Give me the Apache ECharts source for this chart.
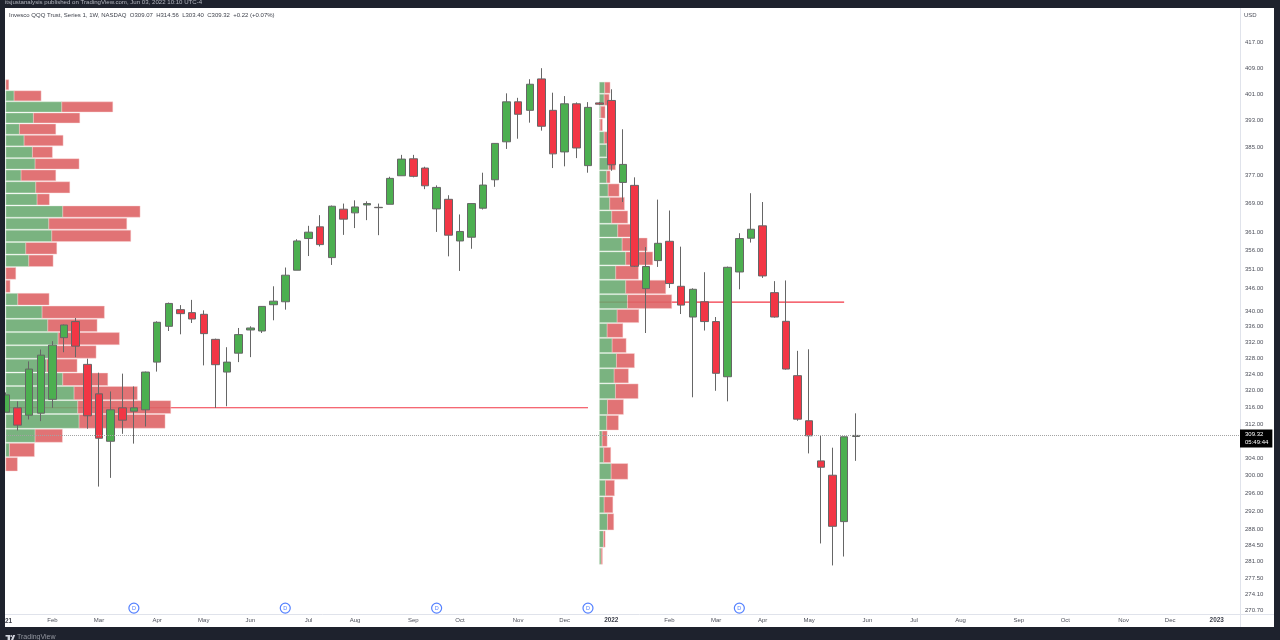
<!DOCTYPE html>
<html>
<head>
<meta charset="utf-8">
<style>html,body{margin:0;padding:0;background:#fff}#chart{width:1280px;height:640px}</style>
<script src="https://cdn.jsdelivr.net/npm/echarts@6/dist/echarts.min.js"></script>
</head>
<body>
<div id="chart"></div>
<script>
// weekly candles
const opens = [314.83,315.88,314.12,314.6,317.93,333.19,337.29,326.49,319.26,307.95,315.88,315.07,315.4,327.05,336.08,340.36,339.59,339.16,332.76,324.59,329.28,335.14,334.88,341.64,342.41,350.72,359.27,362.48,354.1,367.37,366.35,368.56,367.9,368.75,376.84,381.73,379.05,367.46,370.15,358.61,359.63,367.65,375.69,386.69,398.62,396.06,405.63,396.06,383.73,398.03,379.75,398.3,399.04,374.93,374.09,345.85,353.3,358.52,346.46,338.46,342.41,337.29,323.44,350.25,359.36,362.76,344.79,337.36,323.7,312.79,303.39,300.1,289.7,309.07]
const closes = [319.0,311.75,325.33,328.78,331.3,336.42,331.04,313.98,308.66,315.4,312.93,315.88,324.59,337.11,341.97,339.33,337.95,334.21,326.41,327.05,333.96,335.65,341.2,342.56,349.39,358.61,361.01,357.62,368.2,364.6,368.0,368.95,367.8,376.09,381.64,376.67,373.97,373.51,360.19,361.21,368.95,374.18,386.22,398.62,394.87,403.99,391.29,383.16,398.03,384.88,396.95,397.9,380.0,380.1,351.78,351.7,357.97,347.18,341.54,345.67,337.29,324.28,351.5,359.27,361.82,349.2,338.46,325.33,313.17,309.23,301.93,288.67,309.0,309.32]
const lows = [314.8,310.49,313.1,312.7,315.88,329.52,328.29,310.89,297.52,299.5,309.7,307.4,311.43,324.7,334.88,334.04,336.93,326.24,315.88,316.26,327.05,328.29,334.37,337.62,340.36,350.72,354.52,357.1,352.13,360.27,362.14,364.33,360.19,368.75,376.84,376.38,373.02,361.08,354.44,350.53,356.49,367.29,373.68,384.6,387.6,392.36,389.98,379.05,379.54,381.93,377.71,397.6,378.26,369.39,351.6,334.37,351.6,346.01,339.23,318.42,335.0,320.0,317.44,345.67,358.17,348.67,338.3,325.18,312.79,305.12,284.93,280.21,282.11,303.40]
const highs = [319.6,317.44,327.23,330.2,332.3,336.54,338.21,327.9,324.44,319.83,324.2,321.06,324.7,337.36,342.2,341.54,342.9,340.18,332.94,330.78,335.65,336.08,341.28,346.46,351.44,359.08,362.76,365.71,368.4,368.95,369.86,369.58,368.95,376.55,382.87,382.87,379.43,374.09,371.3,365.91,369.03,377.71,386.3,401.2,399.84,405.54,408.95,401.4,400.37,398.44,398.53,398.6,402.44,390.39,376.38,356.95,370.06,367.01,357.06,345.93,350.19,338.46,351.7,360.73,371.87,369.39,347.82,348.0,329.87,330.26,309.23,306.45,309.06,314.56]

// month labels on the time scale, by week number
const tickWeeks = [4,8,13,17,21,26,30,35,39,44,48,52,57,61,65,69,74,78,82,87,91,96,100,104]
const tickLabels = ['Feb','Mar','Apr','May','Jun','Jul','Aug','Sep','Oct','Nov','Dec','2022','Feb','Mar','Apr','May','Jun','Jul','Aug','Sep','Oct','Nov','Dec','2023']
const priceTicks = [417,409,401,393,385,377,369,361,356,351,346,340,336,332,328,324,320,316,312,304,300,296,292,288,284.5,281,277.5,274.1,270.7]
const dividendWeeks = [11,24,37,50,63]
const dividendLevel = 271.26
const lastPrice = 309.32

// volume profile anchored at Jan 2021: price edges, buy and sell volume of each row
const leftEdges = [405.54,402.14,398.77,395.4,392.12,388.76,385.35,381.92,378.62,375.26,371.81,368.42,365.02,361.71,358.31,354.92,351.57,348.19,344.74,341.41,338.0,334.6,331.27,327.92,324.46,321.16,317.73,314.4,310.9,307.6,304.26,300.95]
const leftBuy = [0,8.3,56,27.6,13.6,18.3,26.6,29.3,15.3,30,31.3,57,43,46,20,23,0,0,12,36.3,42,52.3,51,41,57,68.3,72,73.3,29.3,3.6,0]
const leftSell = [3,27,51,46.4,36.4,39,20,44,34.7,34,12.3,77.3,78,79,31,24.3,10,4.3,31.3,62.3,49.3,61.3,39.3,30.3,45,63.3,93,86,27.3,25,11.6]

// volume profile anchored at Jan 2022
const rightEdges = [404.8,401.09,397.43,393.58,389.79,386.01,382.15,378.39,374.65,370.84,367.04,363.34,359.55,355.77,352.0,348.19,344.39,340.54,336.9,333.14,329.32,325.53,321.8,317.98,314.17,310.48,306.64,302.89,299.07,295.32,291.55,287.76,284.02,280.35]
const rightBuy = [5.3,4.7,1.3,0.7,4.7,7.3,9,7.3,8.7,10.3,12.3,18.3,22.7,26.3,16.3,26.3,28,17.7,7.7,12.7,17,14.7,16,8,7.3,2.7,4.3,11.7,6,4.7,8,4,1.7]
const rightSell = [5.3,5,4.3,2.3,4.3,4,7,3.3,11,14.7,16,13,25,27,22.7,40,44.3,21.7,15.7,14,18,14.3,22.7,16,11.7,5,7,16.7,9,8.7,6.3,1.7,1.3]

// point of control lines
const pocLevels = [315.9,342.3]
const pocStart = [0,51]
const pocEnd = [50,72]

const DARK = '#1e222d'
const FONT = '"Liberation Sans", Arial, sans-serif'
const LEFT_BASE = 0
const RIGHT_BASE = 593.8

function candleRows() {
    return opens.map((o, i) => [i, o, closes[i], lows[i], highs[i]])
}

function profileSeries(edges, buy, sell, base) {
    return {
        type: 'custom',
        xAxisIndex: 1,
        z: 3,
        silent: true,
        data: buy.map((b, i) => [edges[i + 1], edges[i], b, sell[i]]),
        encode: { x: 2, y: [0, 1] },
        renderItem: function (params, api) {
            const top = api.coord([base, api.value(1)])
            const bottom = api.coord([base, api.value(0)])
            const mid = api.coord([base + api.value(2), api.value(1)])
            const end = api.coord([base + api.value(2) + api.value(3), api.value(1)])
            const y = top[1] + 0.5
            const h = bottom[1] - top[1] - 1
            return {
                type: 'group',
                children: [
                    { type: 'rect', shape: { x: top[0], y: y, width: mid[0] - top[0], height: h },
                      style: { fill: 'rgba(104,168,110,0.88)', stroke: 'rgba(215,235,215,0.6)', lineWidth: 0.6 } },
                    { type: 'rect', shape: { x: mid[0], y: y, width: end[0] - mid[0], height: h },
                      style: { fill: 'rgba(222,100,102,0.9)', stroke: 'rgba(250,215,215,0.7)', lineWidth: 0.6 } }
                ]
            }
        }
    }
}

function pocSeries(i) {
    return {
        type: 'line',
        z: 2,
        silent: true,
        showSymbol: false,
        lineStyle: { color: '#f23645', width: 1.2 },
        data: [[pocStart[i], pocLevels[i]], [pocEnd[i], pocLevels[i]]]
    }
}

var chart = echarts.init(document.getElementById('chart'), null, { renderer: 'canvas' })

var option = {
    animation: false,
    backgroundColor: '#fff',
    textStyle: { fontFamily: FONT },
    title: {
        text: 'Invesco QQQ Trust, Series 1, 1W, NASDAQ  O309.07  H314.56  L303.40  C309.32  +0.22 (+0.07%)',
        left: 9, top: 12, padding: 0,
        textStyle: { fontSize: 6, fontWeight: 'normal', color: '#3f424c', fontFamily: FONT }
    },
    grid: { left: -0.32, right: 40, top: 8, bottom: 26 },
    xAxis: [
        {
            type: 'value', min: -0.5, max: 106,
            splitLine: { show: false }, axisLine: { show: false }, axisTick: { show: false },
            axisLabel: {
                customValues: tickWeeks,
                margin: 3,
                fontSize: 6,
                color: '#4c4f5a',
                formatter: function (v) {
                    const t = tickLabels[tickWeeks.indexOf(v)]
                    return /^20/.test(t) ? '{year|' + t + '}' : t
                },
                rich: { year: { fontSize: 6.4, fontWeight: 'bold', color: '#3c3f4a' } }
            }
        },
        { type: 'value', min: -5.82, max: 1234.5, show: false }
    ],
    yAxis: {
        type: 'log',
        position: 'right',
        min: 270.05,
        max: 428.1,
        splitLine: { show: false }, axisLine: { show: false }, axisTick: { show: false },
        axisLabel: {
            customValues: priceTicks,
            margin: 5,
            fontSize: 6,
            color: '#4c4f5a',
            formatter: function (v) { return v.toFixed(2) }
        }
    },
    series: [
        pocSeries(0),
        pocSeries(1),
        profileSeries(leftEdges, leftBuy, leftSell, LEFT_BASE),
        profileSeries(rightEdges, rightBuy, rightSell, RIGHT_BASE),
        {
            type: 'candlestick',
            z: 4,
            barWidth: 8,
            itemStyle: {
                color: '#4caf50', color0: '#f23645',
                borderColor: '#666', borderColor0: '#666', borderWidth: 1
            },
            data: candleRows(),
            markLine: {
                silent: true,
                symbol: 'none',
                animation: false,
                lineStyle: { color: '#a3a3a3', type: 'dotted', width: 1 },
                label: {
                    position: 'end',
                    distance: 0,
                    offset: [0, 3],
                    formatter: '309.32\n05:49:44',
                    backgroundColor: '#000',
                    color: '#fff',
                    fontSize: 6,
                    lineHeight: 8,
                    padding: [1, 4, 1, 5]
                },
                data: [{ yAxis: lastPrice }]
            }
        },
        {
            type: 'scatter',
            z: 5,
            silent: true,
            symbolSize: 10,
            itemStyle: { color: '#fff', borderColor: '#2962ff', borderWidth: 1.2 },
            label: { show: true, position: 'inside', formatter: 'D', fontSize: 5.5, color: '#2962ff' },
            data: dividendWeeks.map(w => [w, dividendLevel])
        }
    ],
    graphic: { elements: [
        // pane dividers
        { type: 'line', z: 1, shape: { x1: 5, y1: 614.5, x2: 1274, y2: 614.5 }, style: { stroke: '#e0e3eb', lineWidth: 1 } },
        { type: 'line', z: 1, shape: { x1: 1240.5, y1: 8, x2: 1240.5, y2: 627 }, style: { stroke: '#e0e3eb', lineWidth: 1 } },
        { type: 'text', z: 1, x: 1244, y: 12, style: { text: 'USD', font: '6px ' + FONT, fill: '#4c4f5a' } },
        { type: 'text', z: 90, x: 12, y: 618, style: { text: '2021', align: 'right', font: 'bold 6.4px ' + FONT, fill: '#3c3f4a' } },
        // dark frame of the screenshot
        { type: 'rect', z: 100, shape: { x: 0, y: 0, width: 1280, height: 8 }, style: { fill: DARK } },
        { type: 'rect', z: 100, shape: { x: 0, y: 627, width: 1280, height: 13 }, style: { fill: DARK } },
        { type: 'rect', z: 100, shape: { x: 0, y: 0, width: 5, height: 640 }, style: { fill: DARK } },
        { type: 'rect', z: 100, shape: { x: 1274, y: 0, width: 6, height: 640 }, style: { fill: DARK } },
        { type: 'text', z: 101, x: 5, y: -1, style: { text: 'itsjustanalysis published on TradingView.com, Jun 03, 2022 10:10 UTC-4', font: '6.1px ' + FONT, fill: '#b2b5be' } },
        { type: 'text', z: 101, x: 17, y: 634, style: { text: 'TradingView', font: '7px ' + FONT, fill: '#9598a1' } },
        // logo
        { type: 'rect', z: 101, shape: { x: 5.5, y: 635, width: 4.5, height: 1.6 }, style: { fill: '#d1d4dc' } },
        { type: 'rect', z: 101, shape: { x: 7.6, y: 635, width: 2.4, height: 5 }, style: { fill: '#d1d4dc' } },
        { type: 'circle', z: 101, shape: { cx: 11.2, cy: 636, r: 0.9 }, style: { fill: '#d1d4dc' } },
        { type: 'polygon', z: 101, shape: { points: [[11, 640], [13, 635], [15.2, 635], [13.2, 640]] }, style: { fill: '#d1d4dc' } }
    ] }
}

chart.setOption(option)
window.addEventListener('resize', chart.resize)
</script>
</body>
</html>
